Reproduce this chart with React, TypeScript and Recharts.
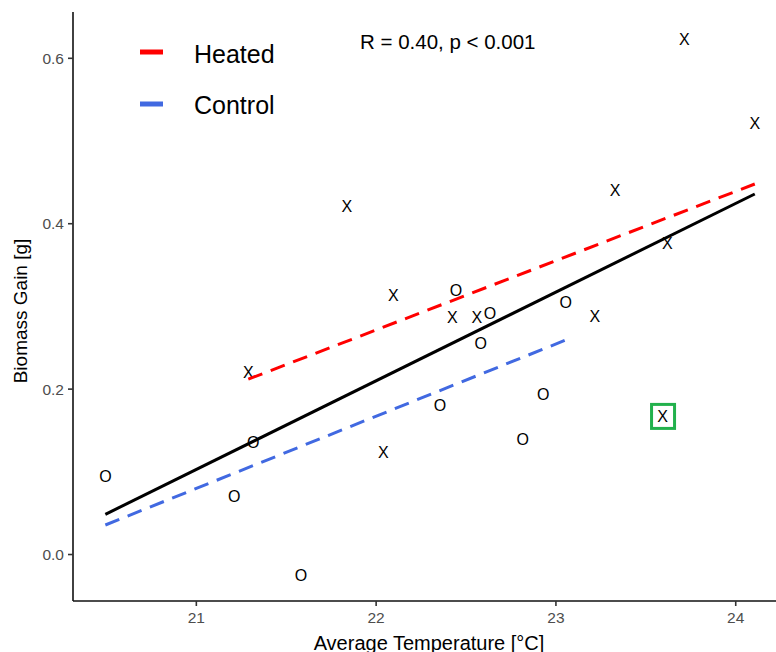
import React from 'react';
import { ScatterChart, Scatter, XAxis, YAxis, Customized } from 'recharts';

// Heated plots (x markers)
const heatedTemp = [21.289, 21.837, 22.096, 22.040, 22.424, 22.560, 23.217, 23.329, 23.620, 23.714, 24.106, 23.593];
const heatedGain = [0.221, 0.421, 0.314, 0.124, 0.287, 0.287, 0.288, 0.440, 0.377, 0.623, 0.522, 0.167];
const heatedFlagged = [false, false, false, false, false, false, false, false, false, false, false, true];

// Control plots (o markers)
const controlTemp = [20.494, 21.211, 21.317, 21.582, 22.355, 22.444, 22.582, 22.633, 22.815, 22.930, 23.055];
const controlGain = [0.095, 0.070, 0.136, -0.025, 0.180, 0.320, 0.255, 0.292, 0.139, 0.194, 0.305];

// Regression lines (end points)
const fitAllTemp = [20.494, 24.106];
const fitAllGain = [0.0486, 0.4359];
const fitHeatedTemp = [21.289, 24.106];
const fitHeatedGain = [0.212, 0.448];
const fitControlTemp = [20.494, 23.055];
const fitControlGain = [0.0357, 0.2594];

const xTicks = [21, 22, 23, 24];
const yTicks = [0, 0.2, 0.4, 0.6];

const FONT = '"Liberation Sans", Arial, sans-serif';

const toPoints = (xs: number[], ys: number[]) => xs.map((x, i) => ({ x, y: ys[i] }));

const heatedData = heatedTemp.map((x, i) => ({ x, y: heatedGain[i], flag: heatedFlagged[i] }));
const controlData = toPoints(controlTemp, controlGain);

const letterShape = (letter: string) => (props: any) => {
  const { cx, cy, payload } = props;
  return (
    <g>
      {payload && payload.flag && (
        <rect x={cx - 11} y={cy - 12} width={23} height={24} fill="none" stroke="#22b14c" strokeWidth={3} />
      )}
      <text x={cx} y={cy + 5.8} textAnchor="middle" fontSize={16} fontFamily={FONT} fill="#000">
        {letter}
      </text>
    </g>
  );
};

const Empty = () => <g />;

// Legend + annotation + axis titles
const Overlay = () => (
  <g fontFamily={FONT}>
    <line x1={140} x2={163} y1={52} y2={52} stroke="#ff0000" strokeWidth={5} />
    <text x={194} y={62.5} fontSize={25} fill="#000">Heated</text>
    <line x1={140} x2={163} y1={104} y2={104} stroke="#4169e1" strokeWidth={5} />
    <text x={194} y={113.5} fontSize={25} fill="#000">Control</text>
    <text x={360} y={49} fontSize={20.5} fill="#000">R = 0.40, p &lt; 0.001</text>
    <text x={429} y={649.5} fontSize={20} textAnchor="middle" fill="#000">Average Temperature [°C]</text>
    <text
      x={27}
      y={311}
      fontSize={19}
      textAnchor="middle"
      fill="#000"
      transform="rotate(-90 27 311)"
    >
      Biomass Gain [g]
    </text>
  </g>
);

const tickStyle = { fill: '#4d4d4d', fontSize: 15.5, fontFamily: FONT };

export default function App() {
  return (
    <div style={{ position: 'absolute', left: 0, top: 0, background: '#fff' }}>
      <ScatterChart width={776} height={652} margin={{ top: 12, right: 0, bottom: 0, left: 0 }}>
        <XAxis
          type="number"
          dataKey="x"
          domain={[20.314, 24.224]}
          ticks={xTicks}
          allowDataOverflow
          height={51}
          tickSize={5}
          tickMargin={6}
          fontSize={15.5}
          axisLine={{ stroke: '#111', strokeWidth: 1.6 }}
          tickLine={{ stroke: '#333', strokeWidth: 1.6 }}
          tick={tickStyle}
        />
        <YAxis
          type="number"
          dataKey="y"
          domain={[-0.0562, 0.656]}
          ticks={yTicks}
          allowDataOverflow
          width={73}
          tickSize={5}
          tickMargin={4}
          fontSize={15.5}
          tickFormatter={(v: number) => v.toFixed(1)}
          axisLine={{ stroke: '#111', strokeWidth: 1.6 }}
          tickLine={{ stroke: '#333', strokeWidth: 1.6 }}
          tick={tickStyle}
        />
        <Scatter data={heatedData} shape={letterShape('X')} isAnimationActive={false} legendType="none" />
        <Scatter data={controlData} shape={letterShape('O')} isAnimationActive={false} legendType="none" />
        <Scatter
          data={toPoints(fitAllTemp, fitAllGain)}
          line={{ stroke: '#000', strokeWidth: 3 }}
          shape={Empty}
          isAnimationActive={false}
          legendType="none"
        />
        <Scatter
          data={toPoints(fitHeatedTemp, fitHeatedGain)}
          line={{ stroke: '#ff0000', strokeWidth: 3, strokeDasharray: '15 9' }}
          shape={Empty}
          isAnimationActive={false}
          legendType="none"
        />
        <Scatter
          data={toPoints(fitControlTemp, fitControlGain)}
          line={{ stroke: '#4169e1', strokeWidth: 3, strokeDasharray: '15 9' }}
          shape={Empty}
          isAnimationActive={false}
          legendType="none"
        />
        <Customized component={Overlay} />
      </ScatterChart>
    </div>
  );
}
